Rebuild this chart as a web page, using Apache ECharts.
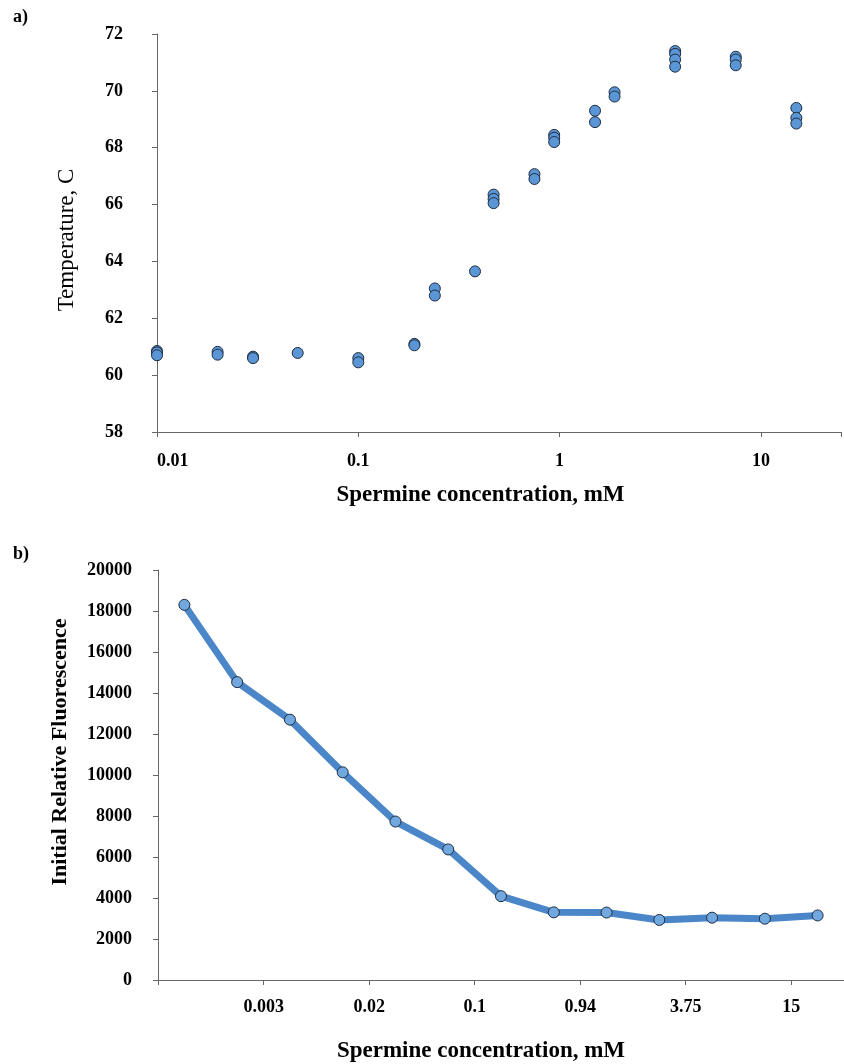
<!DOCTYPE html>
<html>
<head>
<meta charset="utf-8">
<style>
  html, body { margin: 0; padding: 0; background: #fff; }
  #container { width: 844px; height: 1064px; }
</style>
<script src="https://cdn.jsdelivr.net/npm/echarts@6/dist/echarts.min.js"></script>
</head>
<body>
<div id="container"></div>
<script>
// panel a) melting temperature vs spermine (replicates flattened)
var concA = [0.01, 0.01, 0.01, 0.02, 0.02, 0.03, 0.03, 0.05, 0.1, 0.1,
             0.19, 0.19, 0.24, 0.24, 0.38, 0.47, 0.47, 0.47, 0.75, 0.75,
             0.94, 0.94, 0.94, 1.5, 1.5, 1.875, 1.875,
             3.75, 3.75, 3.75, 3.75, 7.5, 7.5, 7.5, 15, 15, 15];
var tempA = [60.85, 60.8, 60.7, 60.82, 60.72, 60.65, 60.6, 60.78, 60.6, 60.45,
             61.1, 61.05, 63.05, 62.8, 63.65, 66.35, 66.2, 66.05, 67.07, 66.9,
             68.45, 68.35, 68.2, 69.3, 68.9, 69.95, 69.8,
             71.4, 71.3, 71.1, 70.85, 71.2, 71.1, 70.9, 69.4, 69.05, 68.85];

// panel b) initial relative fluorescence, 13 dilutions
var categoriesB = ['1', '2', '3', '4', '5', '6', '7', '8', '9', '10', '11', '12', '13'];
var fluorB = [18300, 14530, 12700, 10130, 7730, 6370, 4090, 3300, 3290, 2930, 3040, 2990, 3150];
var tickLabelsB = ['0.003', '0.02', '0.1', '0.94', '3.75', '15'];

var dom = document.getElementById("container");
var myChart = echarts.init(dom);

var serif = "'Liberation Serif', 'Times New Roman', serif";
var axisColor = '#666';

var pointsA = [];
for (var i = 0; i < concA.length; i++) {
    pointsA.push([concA[i], tempA[i]]);
}

var option = {
    animation: false,
    backgroundColor: '#fff',
    textStyle: { fontFamily: serif, color: '#000' },
    graphic: [
        { type: 'text', left: 13, top: 8, style: { text: 'a)', font: 'bold 18px ' + serif, fill: '#000' } },
        { type: 'text', left: 13, top: 545, style: { text: 'b)', font: 'bold 18px ' + serif, fill: '#000' } }
    ],
    grid: [
        { left: 157, top: 34, width: 686, height: 398 },
        { left: 158, top: 570, width: 691, height: 412 }
    ],
    xAxis: [{
        type: 'log',
        gridIndex: 0,
        logBase: 10,
        min: 0.01,
        max: 25,
        name: 'Spermine concentration, mM',
        nameLocation: 'middle',
        nameGap: 52,
        nameTextStyle: { fontFamily: serif, fontWeight: 'bold', fontSize: 23, color: '#000', padding: [0, 37, 0, 0] },
        axisLine: { show: true, onZero: false, lineStyle: { color: axisColor } },
        axisTick: { show: true, length: 5, lineStyle: { color: axisColor } },
        splitLine: { show: false },
        axisLabel: {
            margin: 20,
            fontFamily: serif, fontWeight: 'bold', fontSize: 18, color: '#000',
            alignMinLabel: 'left',
            formatter: function (v) {
                var l = Math.log(v) / Math.LN10;
                return Math.abs(l - Math.round(l)) < 1e-6 ? String(+v.toPrecision(3)) : '';
            }
        }
    }, {
        type: 'category',
        gridIndex: 1,
        data: categoriesB,
        boundaryGap: true,
        name: 'Spermine concentration, mM',
        nameLocation: 'middle',
        nameGap: 60,
        nameTextStyle: { fontFamily: serif, fontWeight: 'bold', fontSize: 23, color: '#000', padding: [0, 40, 0, 0] },
        axisLine: { show: true, onZero: false, lineStyle: { color: axisColor } },
        axisTick: { show: true, length: 5, interval: 1, lineStyle: { color: axisColor } },
        splitLine: { show: false },
        axisLabel: {
            interval: 0,
            margin: 18,
            padding: [0, 0, 0, 53],
            fontFamily: serif, fontWeight: 'bold', fontSize: 18, color: '#000',
            formatter: function (v, idx) {
                return idx % 2 === 1 ? (tickLabelsB[(idx - 1) / 2] || '') : '';
            }
        }
    }],
    yAxis: [{
        type: 'value',
        gridIndex: 0,
        min: 58,
        max: 72,
        interval: 2,
        name: 'Temperature, C',
        nameLocation: 'middle',
        nameGap: 79,
        nameTextStyle: { fontFamily: serif, fontSize: 23, color: '#000', padding: [0, 14, 0, 0] },
        axisLine: { show: true, lineStyle: { color: axisColor } },
        axisTick: { show: true, length: 5, lineStyle: { color: axisColor } },
        splitLine: { show: false },
        axisLabel: { margin: 34, fontFamily: serif, fontWeight: 'bold', fontSize: 18, color: '#000' }
    }, {
        type: 'value',
        gridIndex: 1,
        min: 0,
        max: 20000,
        interval: 2000,
        name: 'Initial Relative Fluorescence',
        nameLocation: 'middle',
        nameGap: 87,
        nameTextStyle: { fontFamily: serif, fontWeight: 'bold', fontSize: 22, color: '#000', padding: [0, 0, 0, 46] },
        axisLine: { show: true, lineStyle: { color: axisColor } },
        axisTick: { show: true, length: 5, lineStyle: { color: axisColor } },
        splitLine: { show: false },
        axisLabel: {
            margin: 26, fontFamily: serif, fontWeight: 'bold', fontSize: 18, color: '#000',
            formatter: function (v) { return String(v); }
        }
    }],
    series: [{
        name: 'Tm',
        type: 'scatter',
        xAxisIndex: 0,
        yAxisIndex: 0,
        symbol: 'circle',
        symbolSize: 11,
        itemStyle: { color: '#5a96d6', borderColor: '#1f2d40', borderWidth: 1, opacity: 1 },
        data: pointsA
    }, {
        name: 'Fluorescence',
        type: 'line',
        xAxisIndex: 1,
        yAxisIndex: 1,
        symbol: 'circle',
        symbolSize: 11,
        showAllSymbol: true,
        lineStyle: { color: '#4a86c8', width: 7 },
        itemStyle: { color: '#72a8e0', borderColor: '#1f2d40', borderWidth: 1 },
        data: fluorB
    }]
};

myChart.setOption(option);
</script>
</body>
</html>
